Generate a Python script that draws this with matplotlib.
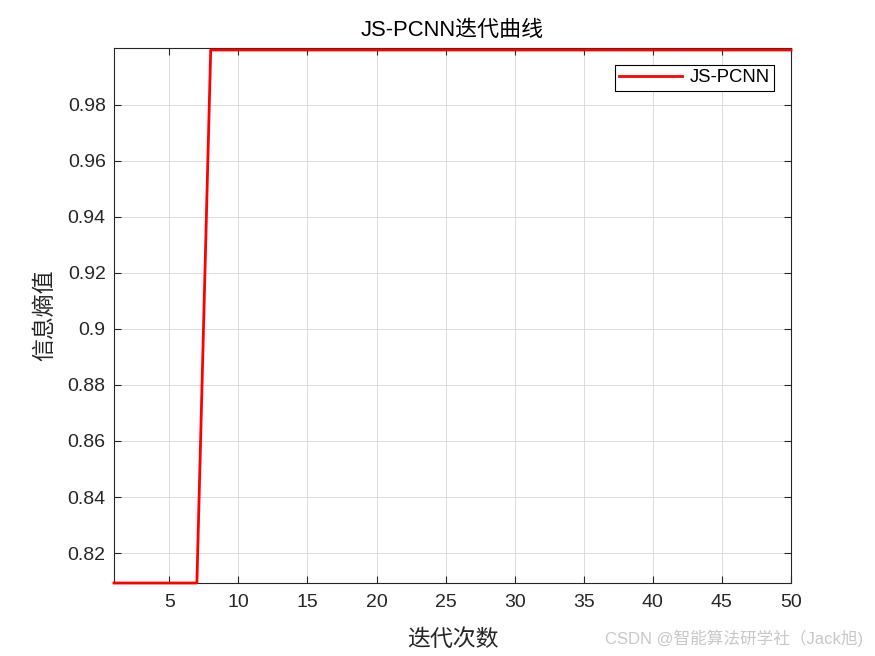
import matplotlib.pyplot as plt
import numpy as np

plt.rcParams['font.family'] = ['Liberation Sans', 'Noto Sans CJK SC', 'DejaVu Sans']
plt.rcParams['axes.unicode_minus'] = False

# iteration curve data
iters = list(range(1, 51))
entropy = [0.8093] * 7 + [0.9996] * 43

fig = plt.figure(figsize=(8.75, 6.56), dpi=100)
ax = fig.add_axes([114 / 875, 1 - 583 / 656, (791 - 114) / 875, (583 - 48) / 656])

ax.plot(iters, entropy, color='red', linewidth=2, label='JS-PCNN', zorder=3, clip_on=False)

ax.set_xlim(1, 50)
ax.set_ylim(min(entropy), max(entropy) + 0.0007)
ax.set_xticks(np.arange(5, 51, 5))
ax.set_yticks(np.arange(0.82, 0.99, 0.02))
ax.set_yticklabels(['0.82', '0.84', '0.86', '0.88', '0.9', '0.92', '0.94', '0.96', '0.98'])

ax.grid(True, color='#dcdcdc', linewidth=0.7)
ax.tick_params(direction='in', top=True, right=True, labelsize=14, colors='#262626', length=5)
ax.tick_params(axis='x', pad=8)
ax.tick_params(axis='y', pad=6)
for s in ax.spines.values():
    s.set_color('#262626')
    s.set_linewidth(0.8)

ax.set_title('JS-PCNN迭代曲线', fontsize=15.8, color='black', pad=8.5)
ax.set_xlabel('迭代次数', fontsize=16.5, color='#262626', labelpad=12)
ax.set_ylabel('信息熵值', fontsize=16.5, color='#262626', labelpad=8)

leg = ax.legend(loc='upper right', fontsize=13.3, fancybox=False, framealpha=1,
                edgecolor='black', borderaxespad=0.9, handlelength=3.4,
                handletextpad=0.4, borderpad=0.25)
leg.get_frame().set_linewidth(0.8)

# watermark
fig.text(0.986, 0.013, 'CSDN @智能算法研学社（Jack旭)', ha='right', va='bottom',
         fontsize=12, color='#c8c8c8')

fig.savefig('out.png', dpi=100)
